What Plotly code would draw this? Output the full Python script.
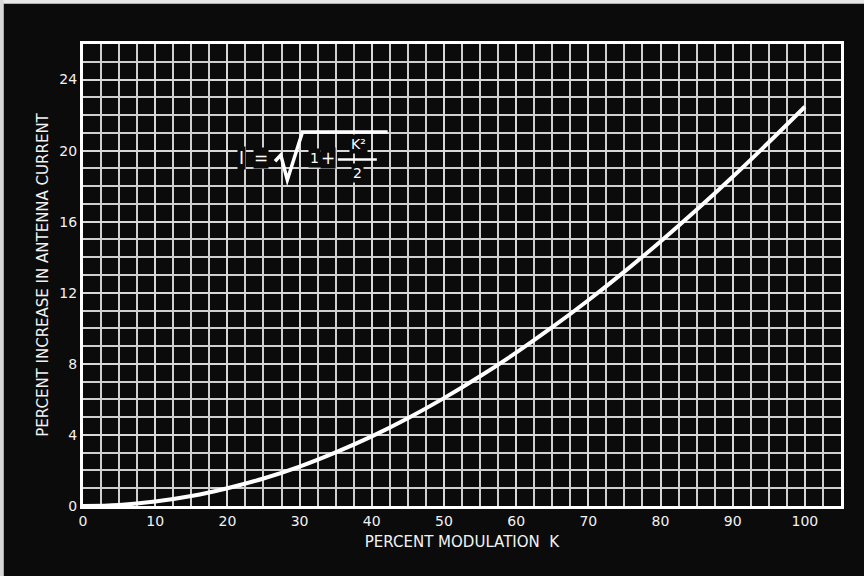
import plotly.graph_objects as go

# Data
modulation_pct = [0, 5, 10, 15, 20, 25, 30, 35, 40, 45, 50, 55, 60, 65, 70, 75, 80, 85, 90, 95, 100]
current_increase_pct = [0, 0.06, 0.25, 0.56, 1.0, 1.55, 2.22, 3.02, 3.92, 4.94, 6.07, 7.3, 8.63,
                        10.06, 11.58, 13.19, 14.89, 16.67, 18.53, 20.47, 22.47]
x_ticks = [0, 10, 20, 30, 40, 50, 60, 70, 80, 90, 100]
y_ticks = [0, 4, 8, 12, 16, 20, 24]

BG = "#0b0b0b"
FG = "#f2f2f2"
FONT = "DejaVu Sans"

fig = go.Figure()
fig.add_trace(go.Scatter(
    x=modulation_pct, y=current_increase_pct, mode="lines",
    line=dict(color="#ffffff", width=4, shape="spline"),
    showlegend=False, hoverinfo="skip"))

fig.update_layout(
    width=864, height=576,
    margin=dict(l=83, r=23, t=44, b=70),
    paper_bgcolor=BG, plot_bgcolor=BG,
    font=dict(family=FONT, color=FG, size=14),
    xaxis=dict(
        range=[0, 105], tickvals=x_ticks, ticktext=[str(v) for v in x_ticks],
        showgrid=True, gridcolor="#d8d8d8", gridwidth=2,
        minor=dict(dtick=2.5, showgrid=True, gridcolor="#cfcfcf", gridwidth=1.6),
        showline=True, linecolor="#ffffff", linewidth=3, mirror=True,
        zeroline=False, ticks="", ticklen=0,
        tickfont=dict(size=14, color=FG, family=FONT),
        title=dict(text="PERCENT MODULATION  K", font=dict(size=15, color=FG, family=FONT), standoff=9),
    ),
    yaxis=dict(
        range=[0, 26], tickvals=y_ticks, ticktext=[str(v) for v in y_ticks],
        showgrid=True, gridcolor="#d8d8d8", gridwidth=2,
        minor=dict(dtick=1, showgrid=True, gridcolor="#cfcfcf", gridwidth=1.6),
        showline=True, linecolor="#ffffff", linewidth=3, mirror=True,
        zeroline=False, ticks="", ticklen=0,
        tickfont=dict(size=14, color=FG, family=FONT),
        title=dict(text="PERCENT INCREASE IN ANTENNA CURRENT", font=dict(size=15, color=FG, family=FONT), standoff=8),
    ),
)

# Formula annotation: I = sqrt(1 + K^2 / 2)
ann_font = dict(family=FONT, color="#ffffff")
fig.add_annotation(x=22.0, y=19.6, text="I", showarrow=False, font=dict(size=17, **ann_font),
                   xanchor="center", yanchor="middle", bgcolor=BG, borderpad=1)
fig.add_annotation(x=24.6, y=19.6, text="=", showarrow=False, font=dict(size=17, **ann_font),
                   xanchor="center", yanchor="middle", bgcolor=BG, borderpad=0)
fig.add_annotation(x=32.1, y=19.6, text="1", showarrow=False, font=dict(size=14, **ann_font),
                   xanchor="center", yanchor="middle", bgcolor=BG, borderpad=1)
fig.add_annotation(x=34.0, y=19.6, text="+", showarrow=False, font=dict(size=17, **ann_font),
                   xanchor="center", yanchor="middle", bgcolor=BG, borderpad=0)
fig.add_annotation(x=38.2, y=20.35, text="K²", showarrow=False, font=dict(size=14, **ann_font),
                   xanchor="center", yanchor="middle", bgcolor=BG, borderpad=1)
fig.add_annotation(x=38.0, y=18.75, text="2", showarrow=False, font=dict(size=14, **ann_font),
                   xanchor="center", yanchor="middle", bgcolor=BG, borderpad=1)
# radical sign with overline, and the fraction bar
fig.add_shape(type="path", xref="x", yref="y",
              path="M 26.6,19.4 L 27.4,19.75 L 28.3,18.35 L 30.4,21.05 L 42.2,21.05",
              line=dict(color="#ffffff", width=3.5))
fig.add_shape(type="line", x0=35.3, x1=40.7, y0=19.5, y1=19.5, xref="x", yref="y",
              line=dict(color="#ffffff", width=2.5))

# photo border strips (top and left)
fig.add_shape(type="rect", xref="paper", yref="paper", x0=-0.12, x1=1.04, y0=1.087, y1=1.1,
              line=dict(width=0), fillcolor="#e8e8e8", layer="above")
fig.add_shape(type="rect", xref="paper", yref="paper", x0=-0.12, x1=-0.1045, y0=-0.16, y1=1.1,
              line=dict(width=0), fillcolor="#d8d8d8", layer="above")

fig.write_html("out.html", config={"displayModeBar": False},
               post_script="document.body.style.margin='0';")
